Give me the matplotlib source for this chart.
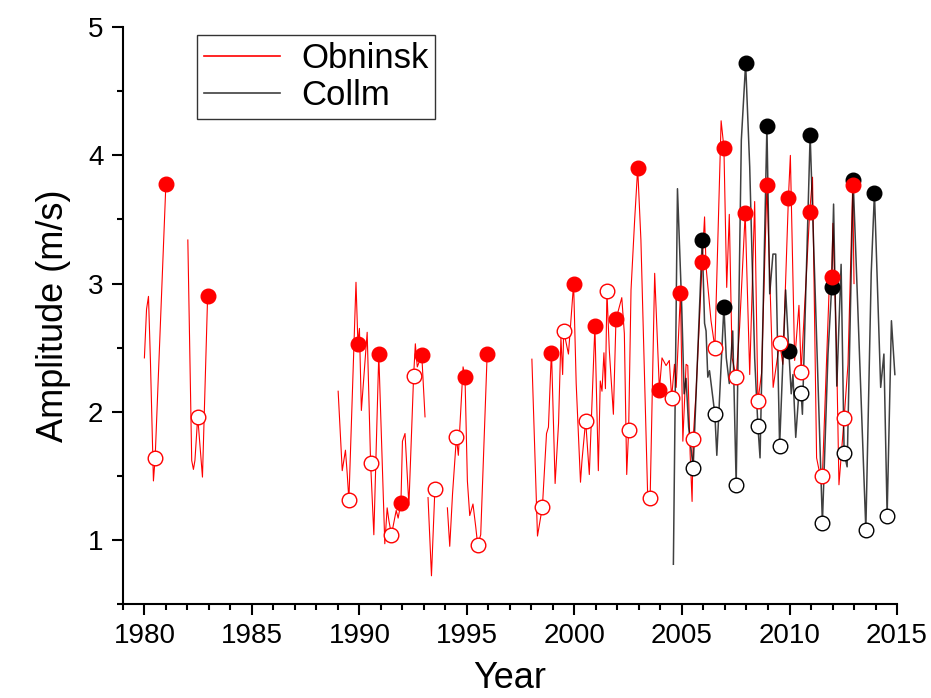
import numpy as np
import matplotlib.pyplot as plt
from matplotlib.ticker import MultipleLocator

plt.rcParams['font.family'] = ['Liberation Sans', 'DejaVu Sans']

nan = np.nan

# Obninsk monthly amplitude (gaps as NaN)
obn_year = [1980.0, 1980.1, 1980.19, 1980.28, 1980.42, 1980.5, 1981.0, nan,
            1982.02, 1982.2, 1982.28, 1982.35, 1982.48, 1982.7, 1982.94, nan,
            1989.01, 1989.2, 1989.35, 1989.43, 1989.51, 1989.84, 1989.93, 1990.0,
            1990.09, 1990.36, 1990.52, 1990.67, 1990.9, 1991.18, 1991.29, 1991.37,
            1991.49, 1991.71, 1991.8, 1991.93, 1992.0, 1992.12, 1992.3, 1992.52,
            1992.6, 1992.69, 1992.9, 1993.05, nan,
            1993.19, 1993.35, 1993.51, nan,
            1994.09, 1994.2, 1994.33, 1994.51, 1994.6, 1994.82, 1994.91, 1995.02,
            1995.13, 1995.28, 1995.41, 1995.5, 1995.64, 1995.94, nan,
            1998.02, 1998.28, 1998.51, 1998.7, 1998.79, 1998.93, 1999.1, 1999.26,
            1999.37, 1999.45, 1999.5, 1999.6, 1999.72, 1999.96, 2000.08, 2000.28,
            2000.35, 2000.52, 2000.69, 2000.95, 2001.11, 2001.2, 2001.28, 2001.37,
            2001.44, 2001.51, 2001.62, 2001.81, 2001.93, 2002.2, 2002.32, 2002.43,
            2002.52, 2002.63, 2002.8, 2002.94, 2003.05, 2003.09, 2003.4, 2003.52,
            2003.73, 2003.95, 2004.07, 2004.26, 2004.41, 2004.52, 2004.65, 2004.73,
            2004.93, 2005.04, 2005.19, 2005.27, 2005.38, 2005.47, 2005.52, 2005.65,
            2005.94, 2006.05, 2006.12, 2006.35, 2006.53, 2006.82, 2006.95, 2007.08,
            2007.2, 2007.33, 2007.52, 2007.68, 2007.94, 2008.15, 2008.38, 2008.53,
            2008.7, 2008.95, 2009.24, 2009.54, 2009.69, 2009.95, 2010.04, 2010.24,
            2010.44, 2010.54, 2010.94, 2011.07, 2011.26, 2011.38, 2011.5, 2011.53,
            2011.87, 2011.96, 2012.02, 2012.18, 2012.3, 2012.54, 2012.72, 2012.94,
            2013.0]
obn_amp = [2.42, 2.80, 2.90, 2.40, 1.46, 1.64, 3.78, nan,
           3.34, 1.62, 1.55, 1.62, 1.96, 1.49, 2.90, nan,
           2.16, 1.54, 1.70, 1.52, 1.31, 3.01, 2.53, 2.65,
           2.01, 2.62, 1.60, 1.04, 2.45, 0.97, 1.25, 1.15,
           1.04, 1.23, 1.17, 1.29, 1.77, 1.83, 1.27, 2.28,
           2.53, 2.35, 2.44, 1.96, nan,
           1.33, 0.72, 1.40, nan,
           1.25, 0.95, 1.36, 1.80, 1.66, 2.35, 2.27, 1.46,
           1.19, 1.28, 1.10, 0.96, 1.04, 2.45, nan,
           2.41, 1.03, 1.26, 1.83, 1.88, 2.48, 1.44, 1.91,
           2.58, 2.29, 2.63, 2.55, 2.45, 3.00, 2.22, 1.45,
           1.62, 1.93, 1.51, 2.67, 1.54, 2.24, 2.16, 2.46,
           2.18, 2.94, 2.48, 1.98, 2.72, 2.89, 2.61, 1.51,
           1.86, 2.95, 3.50, 3.90, 3.50, 3.34, 1.37, 1.33,
           3.08, 2.17, 2.42, 2.36, 2.40, 2.11, 2.37, 2.19,
           2.93, 1.77, 2.37, 2.36, 1.67, 1.30, 1.79, 2.14,
           3.17, 3.52, 3.13, 2.71, 2.50, 4.27, 4.06, 2.97,
           3.54, 2.42, 2.27, 2.66, 3.55, 2.29, 3.64, 2.08,
           2.30, 3.77, 2.19, 2.54, 2.37, 3.67, 4.00, 2.40,
           2.83, 2.31, 3.56, 3.83, 1.64, 1.54, 1.44, 1.50,
           3.08, 3.05, 3.47, 2.55, 1.43, 1.95, 2.37, 3.77,
           3.00]

# Collm monthly amplitude
col_year = [2004.6, 2004.79, 2004.99, 2005.1, 2005.19, 2005.31, 2005.52, 2005.94,
            2006.05, 2006.12, 2006.2, 2006.28, 2006.53, 2006.62, 2006.95, 2007.06,
            2007.2, 2007.36, 2007.52, 2007.76, 2007.96, 2008.15, 2008.38, 2008.53,
            2008.63, 2008.95, 2009.08, 2009.23, 2009.36, 2009.54, 2009.82, 2009.97,
            2010.08, 2010.16, 2010.29, 2010.44, 2010.54, 2010.6, 2010.96, 2011.2,
            2011.53, 2011.79, 2011.96, 2012.05, 2012.2, 2012.4, 2012.54, 2012.68,
            2012.96, 2013.55, 2013.8, 2013.95, 2014.24, 2014.39, 2014.54, 2014.74,
            2014.9]
col_amp = [0.81, 3.74, 2.81, 2.14, 2.26, 1.88, 1.56, 3.34,
           2.69, 2.63, 2.27, 2.32, 1.98, 1.66, 2.82, 2.42,
           2.22, 2.63, 1.43, 4.12, 4.72, 3.91, 2.42, 1.89,
           1.64, 4.23, 2.92, 3.23, 3.23, 1.73, 2.95, 2.47,
           2.14, 2.29, 1.80, 2.16, 2.15, 1.98, 4.16, 2.90,
           1.13, 2.45, 2.97, 3.62, 2.20, 3.15, 1.68, 1.57,
           3.81, 1.08, 3.08, 3.71, 2.19, 2.45, 1.19, 2.71,
           2.29]

# annual maxima (filled) and minima (open)
obn_max_year = [1981.0, 1982.94, 1989.93, 1990.9, 1991.93, 1992.9, 1994.91, 1995.94,
                1998.93, 1999.96, 2000.95, 2001.93, 2002.94, 2003.95, 2004.93, 2005.94,
                2006.95, 2007.94, 2008.95, 2009.95, 2010.94, 2011.96, 2012.94]
obn_max_amp = [3.78, 2.90, 2.53, 2.45, 1.29, 2.44, 2.27, 2.45,
               2.46, 3.00, 2.67, 2.72, 3.90, 2.17, 2.93, 3.17,
               4.06, 3.55, 3.77, 3.67, 3.56, 3.05, 3.77]
obn_min_year = [1980.5, 1982.48, 1989.51, 1990.52, 1991.49, 1992.52, 1993.51, 1994.51,
                1995.5, 1998.51, 1999.5, 2000.52, 2001.51, 2002.52, 2003.52, 2004.52,
                2005.52, 2006.53, 2007.52, 2008.53, 2009.54, 2010.54, 2011.53, 2012.54]
obn_min_amp = [1.64, 1.96, 1.31, 1.60, 1.04, 2.28, 1.40, 1.80,
               0.96, 1.26, 2.63, 1.93, 2.94, 1.86, 1.33, 2.11,
               1.79, 2.50, 2.27, 2.08, 2.54, 2.31, 1.50, 1.95]
col_max_year = [2005.94, 2006.95, 2007.96, 2008.95, 2009.97, 2010.96, 2011.96, 2012.96, 2013.95]
col_max_amp = [3.34, 2.82, 4.72, 4.23, 2.47, 4.16, 2.97, 3.81, 3.71]
col_min_year = [2005.52, 2006.53, 2007.52, 2008.53, 2009.54, 2010.54, 2011.53, 2012.54,
                2013.55, 2014.54]
col_min_amp = [1.56, 1.98, 1.43, 1.89, 1.73, 2.15, 1.13, 1.68, 1.08, 1.19]

fig = plt.figure(figsize=(9.31, 6.98), dpi=100)
ax = fig.add_axes([0.132, 0.1347, 0.8315, 0.8263])

ax.plot(obn_year, obn_amp, color='red', lw=0.8, label='Obninsk', zorder=2)
ax.plot(col_year, col_amp, color='black', lw=1.1, alpha=0.75, label='Collm', zorder=3)

ms = 10.5
ax.plot(col_max_year, col_max_amp, 'o', ms=ms, color='black', zorder=4)
ax.plot(col_min_year, col_min_amp, 'o', ms=ms, mfc='white', mec='black', mew=1.0, zorder=4)
ax.plot(obn_max_year, obn_max_amp, 'o', ms=ms, color='red', zorder=5)
ax.plot(obn_min_year, obn_min_amp, 'o', ms=ms, mfc='white', mec='red', mew=1.0, zorder=5)

ax.set_xlim(1979, 2015)
ax.set_ylim(0.5, 5)
ax.xaxis.set_major_locator(MultipleLocator(5))
ax.xaxis.set_minor_locator(MultipleLocator(1))
ax.yaxis.set_major_locator(MultipleLocator(1))
ax.yaxis.set_minor_locator(MultipleLocator(0.5))
ax.spines['top'].set_visible(False)
ax.spines['right'].set_visible(False)
for s in ['left', 'bottom']:
    ax.spines[s].set_linewidth(1.5)
ax.tick_params(which='major', direction='out', length=8, width=1.5, labelsize=20, pad=6)
ax.tick_params(which='minor', direction='out', length=4.5, width=1.5)

ax.set_xlabel('Year', fontsize=26, labelpad=8)
ax.set_ylabel('Amplitude (m/s)', fontsize=26, labelpad=12)

leg = ax.legend(loc='upper left', bbox_to_anchor=(0.0956, 0.986), borderaxespad=0,
                fontsize=25, handlelength=2.2, fancybox=False, edgecolor='#333333',
                framealpha=1, borderpad=0.2, labelspacing=0.12, handletextpad=0.6)
leg.get_frame().set_linewidth(1.0)
for line in leg.get_lines():
    line.set_linewidth(1.2)

fig.savefig('out.png', dpi=100)
